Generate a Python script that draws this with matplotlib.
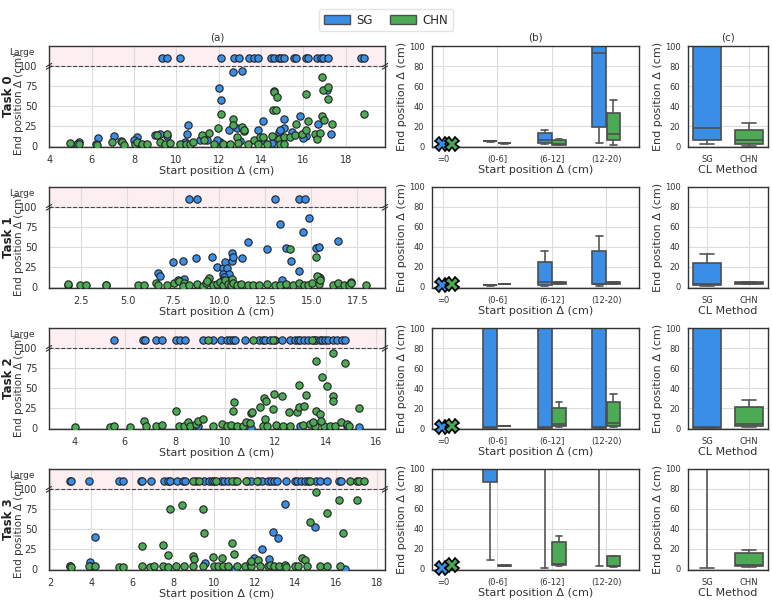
import numpy as np
import matplotlib
matplotlib.use("Agg")
import matplotlib.pyplot as plt
import seaborn as sns
from matplotlib.patches import Patch

sns.set_style("whitegrid")
plt.rcParams['font.family'] = ['DejaVu Sans']
plt.rcParams['axes.edgecolor'] = '#333333'
plt.rcParams['axes.linewidth'] = 1.0
plt.rcParams['grid.color'] = '#dcdcdc'
plt.rcParams['grid.linewidth'] = 0.8

SG_C = '#3a8ee6'
CHN_C = '#4caa55'
BIG_Y = 111  # where the "Large" points sit

# ---------------- scatter data (a) ----------------
# Task 0
t0_sg_x = [12.02, 12.09, 12.69, 13.10, 14.11, 14.61, 15.09, 15.84, 16.69, 17.13, 17.31, 16.13, 10.54, 10.49,
           6.28, 5.42, 7.07, 8.13, 8.99, 9.2, 9.54, 12.46, 12.88, 13.17, 13.87, 14.82, 15.06, 14.9, 15.45,
           12.06, 11.43, 11.1, 11.9, 14.1, 5.3, 6.2, 8.0, 7.4, 10.4, 13.0, 14.5, 16.0]
t0_sg_y = [72.5, 58, 92.5, 94, 31.7, 68.8, 34, 38, 27.5, 70.4, 15.4, 12, 26, 15.4,
           10.4, 5, 12, 11.3, 13.7, 15.4, 12, 19.6, 22.5, 18.3, 19.6, 17.5, 22.9, 19.6, 17.5,
           5, 8, 7, 7, 7, 2, 2, 8, 6, 5, 6, 4, 10]
t0_sg_big = [9.34, 9.54, 10.19, 12.09, 12.72, 12.96, 13.45, 13.64, 13.87, 14.46, 14.63, 14.82, 14.94, 15.10,
             15.56, 15.65, 16.13, 16.20, 16.63, 16.83, 16.90, 17.18, 18.71, 18.84]
t0_chn_x = [4.98, 5.42, 6.24, 6.94, 7.42, 7.53, 8.05, 8.13, 8.36, 8.6, 9.07, 9.54, 9.23, 9.46, 9.7, 10.17,
            10.46, 10.65, 10.8, 11.2, 11.3, 11.56, 11.75, 11.98, 12.09, 12.22, 12.53, 12.69, 12.69, 12.85,
            12.93, 13.09, 13.17, 13.4, 13.64, 13.87, 13.95, 14.1, 14.27, 14.5, 14.55, 14.71, 14.61, 14.74,
            14.82, 14.9, 15.06, 15.09, 15.37, 15.65, 15.61, 15.92, 16.13, 16.19, 16.13, 16.55, 16.66, 16.79,
            16.87, 16.87, 16.91, 16.98, 17.15, 17.15, 17.34, 18.84]
t0_chn_y = [3.7, 2, 1, 5, 5, 1.7, 3, 5, 2, 3, 13.7, 15.4, 5, 2, 3.7, 2,
            3, 2, 5, 13.3, 7, 16.7, 3, 22.5, 40.4, 2, 2, 33.8, 25.8, 11.3,
            3.7, 23.8, 19.6, 2, 7, 2, 11.3, 11.3, 2, 12, 45.8, 44.6, 67.5, 61,
            8.8, 2, 11.3, 2, 11.3, 28, 13.3, 14.6, 19.6, 31.3, 65.4, 15.4, 8.3, 16.3,
            38.3, 86.3, 70.4, 33, 73.8, 58.8, 28, 40]
t0_chn_big = []

# Task 1
t1_sg_x = [7.49, 8.0, 8.72, 9.6, 9.89, 10.18, 10.32, 10.4, 10.67, 10.7, 10.76, 11.25, 11.56, 12.57, 13.3,
           13.62, 13.9, 14.3, 14.53, 14.86, 15.26, 15.39, 16.47, 10.21, 10.5, 10.27, 10.21, 10.18, 10.3,
           13.39, 15.44, 15.48, 17.15, 8.05, 6.64, 6.76]
t1_sg_y = [32, 33, 36, 38, 25, 23.3, 30.8, 23.8, 33, 42.5, 38.3, 36, 56, 48, 79.6,
           48.8, 32.5, 20.4, 69.6, 86.3, 49.6, 50.8, 58.3, 16, 16, 12.5, 9, 6.7, 3.7,
           9, 13, 10.8, 6.7, 10.4, 17.5, 13.8]
t1_sg_big = [8.36, 8.76, 13.03, 14.30, 14.66]
t1_chn_x = [1.77, 1.77, 2.41, 2.74, 3.82, 3.86, 5.59, 5.89, 6.58, 6.64, 7.13, 7.53, 7.76, 7.8, 8.07, 8.0,
            8.36, 8.76, 9.12, 9.27, 9.45, 9.34, 9.67, 9.89, 10.03, 10.18, 10.32, 10.48, 10.61, 10.7, 10.76,
            10.94, 11.16, 11.57, 11.81, 12.13, 12.57, 13.04, 13.3, 13.62, 13.84, 14.02, 14.3, 14.6, 14.84,
            15.02, 15.26, 15.33, 15.39, 15.48, 16.15, 16.47, 16.75, 17.02, 17.15, 17.98]
t1_chn_y = [3, 4, 2.5, 3, 3, 2, 2.5, 2.5, 5, 3, 3, 5, 9, 7, 5, 1.7,
            3, 3.7, 1.7, 5, 11.3, 8, 2.5, 3.7, 6.7, 2.5, 8.3, 3.7, 2.5, 10, 5,
            2.5, 3.7, 3, 2.5, 2.5, 3.3, 2.5, 3, 3.3, 48.3, 2.5, 5.4, 2.5, 2.5,
            5, 38.3, 14.2, 3.7, 9, 2.5, 5, 2.5, 3, 5, 2.5]
t1_chn_big = []

# Task 2
t2_sg_x = [11.04, 8.92, 15.32, 14.83, 12.97]
t2_sg_y = [0, 2, 1, 2, 2]
t2_sg_big = [5.55, 6.72, 6.82, 7.26, 7.49, 8.03, 8.19, 8.39, 9.12, 9.51, 9.82, 10.05, 10.18, 10.31, 10.39,
             10.78, 11.35, 11.51, 11.57, 11.80, 11.99, 12.24, 12.57, 12.77, 12.88, 12.97, 13.13, 13.30,
             13.54, 13.63, 13.77, 13.85, 13.97, 14.10, 14.27, 14.46, 14.63, 14.76]
t2_chn_x = [4.0, 5.4, 5.55, 6.19, 6.75, 6.86, 7.26, 7.49, 8.05, 8.16, 8.35, 8.52, 8.61, 8.82, 8.92, 9.12,
            9.51, 9.85, 10.07, 10.21, 10.29, 10.35, 10.47, 10.71, 10.82, 11.0, 11.04, 11.06, 11.38, 11.51,
            11.53, 11.57, 11.64, 11.67, 11.91, 11.93, 12.01, 12.24, 12.28, 12.57, 12.54, 12.84, 12.94,
            12.94, 13.08, 13.13, 13.21, 13.37, 13.57, 13.63, 13.63, 13.77, 13.87, 13.93, 14.06, 14.17,
            14.27, 14.3, 14.3, 14.37, 14.59, 14.76, 14.83, 14.94, 15.34, 13.81, 13.5]
t2_chn_y = [1.2, 1.2, 2, 1.2, 9, 2, 2, 4, 20.8, 2, 3, 7, 2, 5.4, 9, 10.8,
            3, 5.4, 3, 3.7, 20.8, 32.5, 2, 3, 7, 5.8, 18.8, 20, 25.8, 2,
            38.3, 11.3, 34.2, 2, 24.2, 43, 4, 40.4, 2, 2, 20.4, 20.4, 27,
            54.2, 4, 28, 41.3, 5.4, 3, 20.8, 84.6, 17.5, 63.8, 2, 53, 2,
            40.4, 33.3, 93.8, 2, 7, 82, 5, 2, 25, 8.3, 7]
t2_chn_big = [9.32, 11.11, 11.91, 13.46]

# Task 3
t3_sg_x = [3.96, 4.17, 9.56, 11.96, 12.38, 12.71, 12.9, 13.15, 13.48, 14.95, 2.95, 3.96, 11.03, 7.6, 16.4]
t3_sg_y = [8.3, 40.4, 7.5, 14.2, 25.4, 12.5, 46, 38.8, 82, 52.5, 3.3, 3.3, 0, 0, 0]
t3_sg_big = [2.95, 3.00, 3.89, 5.36, 5.56, 6.41, 6.46, 6.90, 7.55, 7.76, 7.84, 8.20, 8.47, 8.58, 9.12,
             9.51, 9.76, 9.90, 10.0, 10.33, 10.49, 10.70, 11.03, 11.63, 11.84, 12.17, 12.38, 12.66, 12.78,
             12.94, 13.07, 13.53, 13.97, 14.05, 14.29, 14.46, 14.62, 15.0, 15.19, 15.52, 16.14, 16.25]
t3_chn_x = [2.95, 3.0, 3.89, 4.2, 5.36, 5.56, 6.46, 6.46, 6.87, 7.06, 7.52, 7.49, 7.76, 7.76, 7.84, 8.17,
            8.42, 8.53, 8.99, 9.02, 8.96, 9.48, 9.54, 9.48, 9.97, 10.0, 10.21, 10.42, 10.46, 10.7, 10.87,
            10.98, 11.11, 11.52, 11.76, 11.8, 11.84, 12.14, 12.25, 12.63, 12.74, 12.94, 13.2, 13.48, 13.53,
            13.97, 14.13, 14.34, 14.46, 14.57, 14.7, 15.0, 15.19, 15.52, 15.55, 16.15, 16.17, 16.33, 16.99]
t3_chn_y = [4, 3, 3.3, 4, 2.5, 2.5, 29, 3.3, 2.5, 4, 30.4, 3.3, 17.5, 2.5, 75.8, 3.3,
            80.8, 4, 16.7, 12.5, 3.3, 75, 44.6, 3.3, 14.6, 3.3, 3.3, 14.2, 3.3, 3.3, 33,
            19, 3.3, 3.3, 7.5, 4, 10, 11.3, 3.3, 3.3, 5, 3.3, 3.3, 5, 2,
            3.3, 3.3, 13.8, 11.7, 3.3, 59.6, 96.6, 3.3, 70.8, 3.3, 86, 3.3, 45, 86]
t3_chn_big = [8.96, 9.28, 10.13, 10.90, 11.14, 11.57, 12.09, 14.70, 16.66, 16.99, 17.12, 17.35]

scatter_xlims = [(3.98, 19.85), (0.74, 19.0), (2.98, 16.36), (1.93, 18.38)]

# ---------------- box data (b), (c) ----------------
bins = ['=0', '(0-6]', '(6-12]', '(12-20)']
methods = ['SG', 'CHN']
# value at start position = 0 (drawn as X)
zero_sg = [2.5, 2.3, 1.0, 1.0]
zero_chn = [2.5, 3.3, 2.3, 4.0]
# per task, per bin (0-6], (6-12], (12-20): [whislo, q1, med, q3, whishi]; >100 is off-scale
b_sg = [
    [[4.5, 4.6, 5.0, 5.4, 5.5], [1.7, 3.3, 5.7, 13, 16.4], [3, 19.4, 92.6, 150, 150]],
    [[1.5, 1.6, 2.0, 2.4, 2.5], [0.7, 1.7, 5, 25, 35.7], [0.7, 2.7, 3, 36.3, 51.3]],
    [[0, 0.3, 1.0, 150, 150], [0, 0.3, 1.0, 150, 150], [0, 0.3, 1.0, 150, 150]],
    [[9, 86.7, 150, 150, 150], [1, 150, 150, 150, 150], [3.3, 150, 150, 150, 150]],
]
b_chn = [
    [[2.5, 2.6, 3.0, 3.4, 3.5], [0.7, 1.3, 2.3, 5.7, 7], [0.7, 6.4, 12.4, 33, 46.5]],
    [[2.8, 2.9, 3.0, 3.2, 3.3], [2.8, 3, 4, 5.3, 5.5], [2.8, 3, 4, 4.7, 4.9]],
    [[1.8, 1.9, 2.0, 2.2, 2.3], [1, 2.3, 3.7, 20, 26], [1, 1.7, 4.7, 26, 34]],
    [[2.8, 3.0, 3.3, 3.7, 3.8], [2.7, 4, 4.7, 26.7, 33.3], [2, 2.7, 3.3, 12.7, 13.3]],
]
c_sg = [[1.7, 6.4, 18.4, 150, 150], [0.7, 1.7, 2.7, 24, 33.3], [0, 0.3, 1.0, 150, 150], [1, 150, 150, 150, 150]]
c_chn = [[0, 1.7, 6.4, 16.4, 23], [2.8, 3, 4, 5, 5.3], [1, 2.3, 4.4, 20.8, 28.5], [2, 3.3, 4, 16, 19.3]]

tasks = [
    (t0_sg_x, t0_sg_y, t0_sg_big, t0_chn_x, t0_chn_y, t0_chn_big),
    (t1_sg_x, t1_sg_y, t1_sg_big, t1_chn_x, t1_chn_y, t1_chn_big),
    (t2_sg_x, t2_sg_y, t2_sg_big, t2_chn_x, t2_chn_y, t2_chn_big),
    (t3_sg_x, t3_sg_y, t3_sg_big, t3_chn_x, t3_chn_y, t3_chn_big),
]


def stat(v):
    return dict(whislo=v[0], q1=v[1], med=v[2], q3=v[3], whishi=v[4], fliers=[])


def draw_boxes(ax, stats, positions, colors, width):
    for s, p, c in zip(stats, positions, colors):
        ax.bxp([stat(s)], positions=[p], widths=width, patch_artist=True, showfliers=False,
               manage_ticks=False,
               boxprops=dict(facecolor=c, edgecolor='#4d4d4d', linewidth=1.2),
               medianprops=dict(color='#4d4d4d', linewidth=1.2),
               whiskerprops=dict(color='#555555', linewidth=1.2),
               capprops=dict(color='#555555', linewidth=1.2))


W, H = 772, 603
fig = plt.figure(figsize=(W / 100, H / 100), dpi=100)
row_tops = [46, 187, 328, 469]
row_h = 101

for i, (sx, sy, sbig, cx, cy, cbig) in enumerate(tasks):
    bottom = 1 - (row_tops[i] + row_h) / H
    h = row_h / H
    ax = fig.add_axes([49 / W, bottom, 336 / W, h])
    axb = fig.add_axes([432 / W, bottom, 207 / W, h])
    axc = fig.add_axes([688 / W, bottom, 80 / W, h])

    # ---- (a) scatter
    ax.axhspan(100, 130, color='#fdeef1', zorder=0)
    ax.axhline(100, color='#444444', ls='--', lw=0.8, zorder=1)
    ax.scatter(sx, sy, s=28, color=SG_C, edgecolor='#222222', linewidth=0.8, zorder=3)
    ax.scatter(sbig, [BIG_Y] * len(sbig), s=28, color=SG_C, edgecolor='#222222', linewidth=0.8, zorder=3)
    ax.scatter(cx, cy, s=28, color=CHN_C, edgecolor='#222222', linewidth=0.8, zorder=4)
    ax.scatter(cbig, [BIG_Y] * len(cbig), s=28, color=CHN_C, edgecolor='#222222', linewidth=0.8, zorder=4)
    ax.set_xlim(*scatter_xlims[i])
    ax.set_ylim(-1.2, 125.5)
    ax.set_yticks([0, 25, 50, 75, 100])
    ax.tick_params(axis='both', labelsize=7, colors='#333333')
    ax.tick_params(axis='y', pad=5)
    ax.tick_params(axis='x', pad=2)
    ax.text(-14 / 336, 117, 'Large', transform=ax.get_yaxis_transform(), ha='right', va='center',
            fontsize=6.5, color='#333333')
    ax.set_xlabel('Start position Δ (cm)', fontsize=8, labelpad=1, color='#333333')
    ax.set_ylabel('End position Δ (cm)', fontsize=7.5, color='#333333')
    ax.yaxis.set_label_coords(-25 / 336, 0.43)
    trans = ax.get_yaxis_transform()
    for xb in (0.0, 1.0):
        for off in (-1.6, 1.6):
            ax.plot([xb - 0.008, xb + 0.008], [98 + off, 102 + off], color='#333333', lw=0.8,
                    transform=trans, clip_on=False, zorder=5)
    fig.text(9 / W, bottom + 0.5 * h, f'Task {i}', rotation=90, fontsize=8.5, fontweight='bold',
             ha='center', va='center', color='#222222')

    # ---- (b) boxes per start bin
    for k in range(3):
        draw_boxes(axb, [b_sg[i][k], b_chn[i][k]], [k + 1 - 0.13, k + 1 + 0.13], [SG_C, CHN_C], 0.25)
    axb.plot([-0.02], [zero_sg[i]], marker='X', ms=9.5, mfc=SG_C, mec='black', mew=1.2, ls='none', zorder=5,
             clip_on=False)
    axb.plot([0.17], [zero_chn[i]], marker='X', ms=9.5, mfc=CHN_C, mec='black', mew=1.2, ls='none', zorder=5,
             clip_on=False)
    axb.set_xlim(-0.2, 3.6)
    axb.set_ylim(-1, 100)
    axb.set_xticks(range(4))
    axb.set_xticklabels(bins)
    axb.set_yticks([0, 20, 40, 60, 80, 100])
    axb.tick_params(axis='both', labelsize=6, pad=2, colors='#333333')
    axb.set_xlabel('Start position Δ (cm)', fontsize=8, labelpad=1, color='#333333')
    axb.set_ylabel('End position Δ (cm)', fontsize=8, labelpad=1, color='#333333')

    # ---- (c) boxes per method
    draw_boxes(axc, [c_sg[i], c_chn[i]], [0, 1], [SG_C, CHN_C], 0.68)
    axc.set_xlim(-0.47, 1.47)
    axc.set_ylim(-1, 100)
    axc.set_xticks([0, 1])
    axc.set_xticklabels(methods)
    axc.set_yticks([0, 20, 40, 60, 80, 100])
    axc.tick_params(axis='both', labelsize=6, pad=2, colors='#333333')
    axc.set_xlabel('CL Method', fontsize=8, labelpad=1, color='#333333')
    axc.set_ylabel('End position Δ (cm)', fontsize=8, labelpad=1, color='#333333')

    if i == 0:
        ax.set_title('(a)', fontsize=7.5, pad=4, color='#333333')
        axb.set_title('(b)', fontsize=7.5, pad=4, color='#333333')
        axc.set_title('(c)', fontsize=7.5, pad=4, color='#333333')

handles = [Patch(facecolor=SG_C, edgecolor='#4d4d4d', label='SG'),
           Patch(facecolor=CHN_C, edgecolor='#4d4d4d', label='CHN')]
fig.legend(handles=handles, loc='upper center', bbox_to_anchor=(0.5, 0.995), ncol=2, fontsize=8.5,
           handlelength=2.2, handletextpad=0.6, frameon=True, edgecolor='#dddddd', borderpad=0.4,
           columnspacing=1.4)

fig.savefig('out.png', dpi=100)
